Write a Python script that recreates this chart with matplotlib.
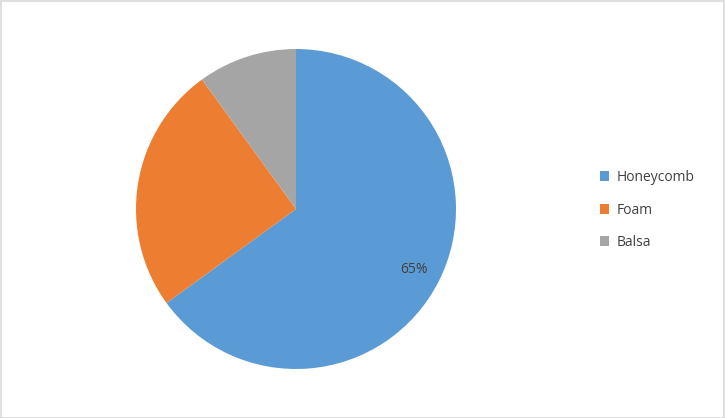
import matplotlib
matplotlib.use('Agg')
import matplotlib.pyplot as plt
from matplotlib.patches import Rectangle, Patch

# Core material share
categories = ['Honeycomb', 'Foam', 'Balsa']
shares = [65, 25, 10]
colors = ['#5B9BD5', '#ED7D31', '#A5A5A5']

plt.rcParams['font.family'] = ['Open Sans', 'DejaVu Sans']

W, H = 725, 418
fig = plt.figure(figsize=(W / 100, H / 100), dpi=100)

# light grey frame around the chart area
fig.patches.append(Rectangle((0.5 / W, 0.5 / H), 1 - 1.5 / W, 1 - 1.5 / H,
                             transform=fig.transFigure, fill=False,
                             edgecolor='#D9D9D9', linewidth=1.2))

ax = fig.add_axes([136 / W, 49 / H, 320 / W, 320 / H])


def only_big(p):
    return '%d%%' % round(p) if p > 50 else ''


wedges, texts, autotexts = ax.pie(shares, colors=colors, startangle=90,
                                  counterclock=False, radius=1,
                                  autopct=only_big, pctdistance=0.83,
                                  wedgeprops={'linewidth': 0},
                                  textprops={'color': '#404040', 'fontsize': 10})
ax.set_xlim(-1, 1)
ax.set_ylim(-1, 1)
ax.set_aspect('equal')
ax.axis('off')

handles = [Patch(facecolor=c, edgecolor='none') for c in colors]
fig.legend(handles, categories, loc='center left',
           bbox_to_anchor=(587 / W, 208 / H), frameon=False,
           fontsize=10, labelcolor='#404040', handlelength=0.7,
           handleheight=0.7, handletextpad=0.5, labelspacing=1.25)

fig.savefig('out.png', dpi=100)
